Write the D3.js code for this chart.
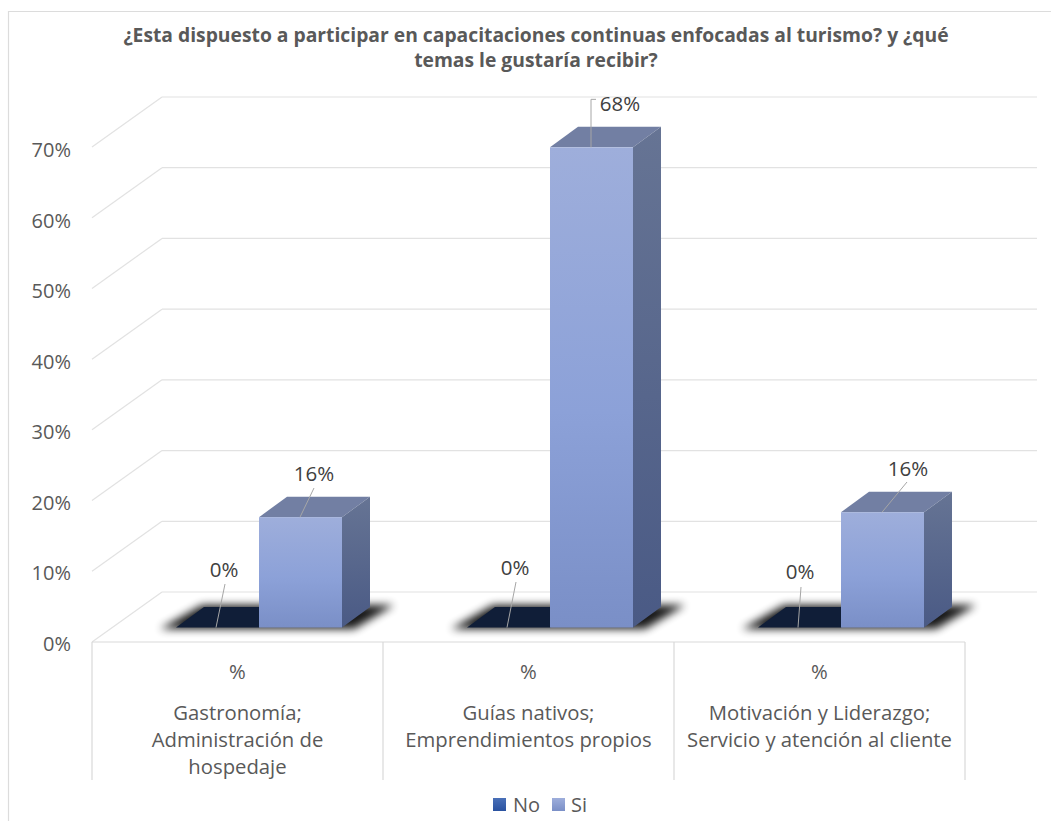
<!DOCTYPE html>
<html><head><meta charset="utf-8"><style>html,body{margin:0;padding:0;background:#fff}svg{display:block}text{font-family:"Open Sans",sans-serif}</style>
<script src="https://cdn.jsdelivr.net/npm/d3@7"></script></head><body><script>
const categories=[["Gastronomía;","Administración de","hospedaje"],["Guías nativos;","Emprendimientos propios"],["Motivación y Liderazgo;","Servicio y atención al cliente"]];
const subLabel="%";
const seriesNames=["No","Si"];
const noValues=[0,0,0];
const siValues=[15.6,67.9,16.3];
const noLabels=["0%","0%","0%"];
const siLabels=["16%","68%","16%"];
const yTicks=[0,10,20,30,40,50,60,70];
const titleLines=["¿Esta dispuesto a participar en capacitaciones continuas enfocadas al turismo? y ¿qué","temas le gustaría recibir?"];

const W=1051,H=821;
const svg=d3.select("body").append("svg").attr("width",W).attr("height",H);
const defs=svg.append("defs");
function grad(id,x2,y2,stops){const g=defs.append("linearGradient").attr("id",id).attr("x1",0).attr("y1",0).attr("x2",x2).attr("y2",y2);
 stops.forEach(s=>g.append("stop").attr("offset",s[0]).attr("stop-color",s[1]));}
grad("front",0,1,[[0,"#9eaedb"],[.55,"#8ca1d8"],[1,"#7a8fc7"]]);
grad("side",0,1,[[0,"#667494"],[1,"#4a5a85"]]);
grad("legNo",0,1,[[0,"#4a70b8"],[1,"#2a52a0"]]);
grad("legSi",0,1,[[0,"#9eaedb"],[1,"#7a8fc7"]]);
defs.append("filter").attr("id","blur").attr("x","-20%").attr("y","-60%").attr("width","140%").attr("height","220%").append("feGaussianBlur").attr("stdDeviation",4.5);

svg.append("path").attr("d",`M8.5,${H}V11.5H${W}`).attr("fill","none").attr("stroke","#dcdcdc").attr("stroke-width",1.2);

const y=d3.scaleLinear().domain([0,70]).range([642,147]);
const band=d3.scaleBand().domain(d3.range(3)).range([92,965]);
const wallDx=70,wallDy=-50,wallRight=1037;
const gridC="#e2e2e2";
const g=svg.append("g");
yTicks.forEach(t=>{
 g.append("line").attr("x1",band.range()[0]).attr("y1",y(t)).attr("x2",band.range()[0]+wallDx).attr("y2",y(t)+wallDy).attr("stroke",gridC).attr("stroke-width",1.2);
 g.append("line").attr("x1",band.range()[0]+wallDx).attr("y1",y(t)+wallDy).attr("x2",wallRight).attr("y2",y(t)+wallDy).attr("stroke",gridC).attr("stroke-width",1.2);
});
g.append("line").attr("x1",92).attr("x2",965).attr("y1",642).attr("y2",642).attr("stroke","#d9d9d9").attr("stroke-width",1.2);
d3.range(4).forEach(i=>{const x=i<3?band(i):band.range()[1];
 g.append("line").attr("x1",x).attr("x2",x).attr("y1",642).attr("y2",780).attr("stroke","#d9d9d9").attr("stroke-width",1.2);});

const yLabelPos=[642,571,501,430,360,289,219,148];
svg.selectAll(".yt").data(yTicks).join("text").attr("x",71).attr("y",(t,i)=>yLabelPos[i]+8.5).attr("text-anchor","end").attr("font-size",20).attr("fill","#595959").text(t=>t+"%");

const barW=83,depthX=28,depthY=-20.5,baseY=627.5;
const noX=i=>band(i)+84,siX=i=>band(i)+167;
const hgt=v=>y(0)-y(v);
const poly=(sel,pts,fill)=>sel.append("polygon").attr("points",pts.map(p=>p.join(",")).join(" ")).attr("fill",fill);
const noLabelPos=[[224,570],[515,568],[800,572]];
const noLeaderEnd=[[225,584],[516,582],[801,587]];
const siLabelPos=[[314,474],[620,104],[908,469]];
const siLeaderEnd=[[314,488],null,[907,482]];
const lc="#a6a6a6",dl="#404040";
d3.range(3).forEach(i=>{
 const x0=noX(i),x1=siX(i),xr=x1+barW,top=baseY-hgt(siValues[i]);
 poly(svg,[[x0-16,baseY+1.5],[x0+depthX-2,baseY+depthY-2],[xr+depthX+24,baseY+depthY-2],[xr+12,baseY+1.5]],"#000").attr("filter","url(#blur)").attr("opacity",.9);
 poly(svg,[[x0,baseY],[x0+depthX,baseY+depthY],[x1+depthX,baseY+depthY],[x1,baseY]],"#101e38");
 poly(svg,[[x1,top],[x1+depthX,top+depthY],[xr+depthX,top+depthY],[xr,top]],"#727fa3");
 poly(svg,[[xr,top],[xr+depthX,top+depthY],[xr+depthX,baseY+depthY],[xr,baseY]],"url(#side)");
 svg.append("rect").attr("x",x1).attr("y",top).attr("width",barW).attr("height",hgt(siValues[i])).attr("fill","url(#front)");
 svg.append("line").attr("x1",x0+40).attr("y1",baseY).attr("x2",noLeaderEnd[i][0]).attr("y2",noLeaderEnd[i][1]).attr("stroke",lc);
 if(i==1){
  svg.append("path").attr("d",`M${x1+41},${top}V${top-48}h5`).attr("fill","none").attr("stroke",lc);
 } else {
  svg.append("line").attr("x1",x1+41).attr("y1",top).attr("x2",siLeaderEnd[i][0]).attr("y2",siLeaderEnd[i][1]).attr("stroke",lc);
 }
 svg.append("text").attr("x",noLabelPos[i][0]).attr("y",noLabelPos[i][1]+7).attr("text-anchor","middle").attr("font-size",20.5).attr("fill",dl).text(noLabels[i]);
 svg.append("text").attr("x",siLabelPos[i][0]).attr("y",siLabelPos[i][1]+7).attr("text-anchor","middle").attr("font-size",20.5).attr("fill",dl).text(siLabels[i]);
});

d3.range(3).forEach(i=>{
 const cx=band(i)+band.bandwidth()/2;
 svg.append("text").attr("x",cx).attr("y",679).attr("text-anchor","middle").attr("font-size",20.3).attr("fill","#595959").text(subLabel);
 categories[i].forEach((l,k)=>svg.append("text").attr("x",cx).attr("y",720+k*27).attr("text-anchor","middle").attr("font-size",20.3).attr("fill","#595959").text(l));
});

titleLines.forEach((l,k)=>svg.append("text").attr("x",536).attr("y",42+k*25).attr("text-anchor","middle").attr("font-size",19.3).attr("font-weight",700).attr("fill","#595959").text(l));

svg.append("rect").attr("x",493).attr("y",798).attr("width",13).attr("height",13).attr("fill","url(#legNo)");
svg.append("text").attr("x",513).attr("y",812).attr("font-size",20).attr("fill","#595959").text(seriesNames[0]);
svg.append("rect").attr("x",552).attr("y",798).attr("width",13).attr("height",13).attr("fill","url(#legSi)");
svg.append("text").attr("x",571).attr("y",812).attr("font-size",20).attr("fill","#595959").text(seriesNames[1]);
</script></body></html>
